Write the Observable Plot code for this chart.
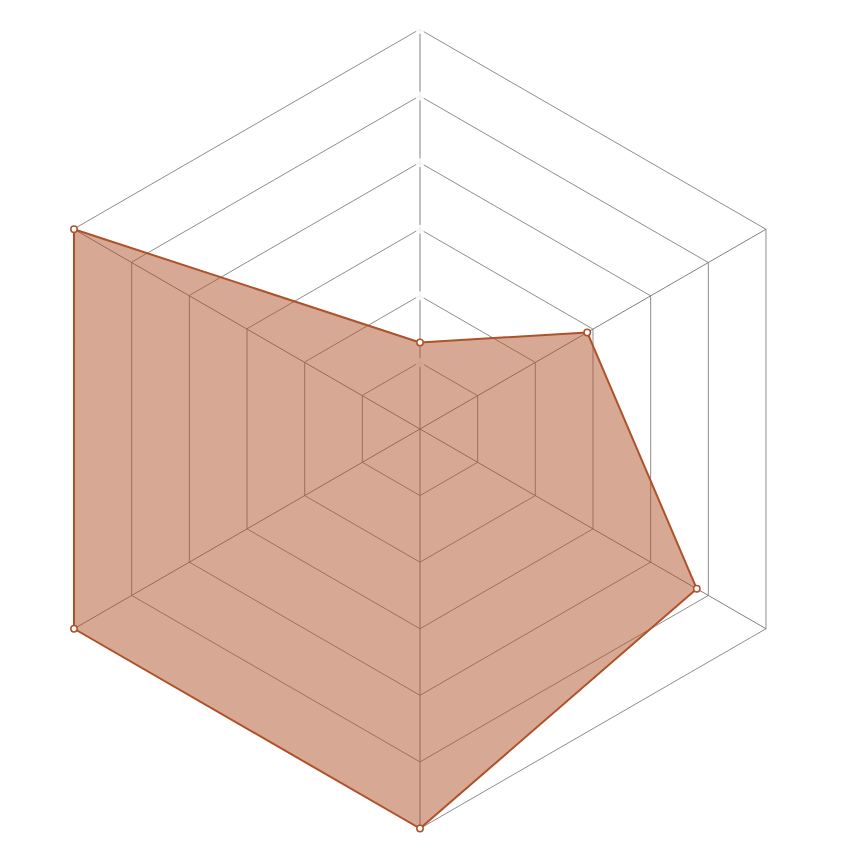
<!DOCTYPE html>
<html>
<head>
<meta charset="utf-8">
<script src="https://cdn.jsdelivr.net/npm/d3@7"></script>
<script src="https://cdn.jsdelivr.net/npm/@observablehq/plot@0.6"></script>
<style>
  html, body { margin: 0; padding: 0; background: #fff; }
  svg { display: block; }
</style>
</head>
<body>
<div id="chart"></div>
<script>
// Data
const axes = ["A", "B", "C", "D", "E", "F"];
const values = [1.3, 2.9, 4.8, 6, 6, 6];
const ringLevels = [1, 2, 3, 4, 5, 6];
const maxValue = 6;

const color = "#af5129";
const n = axes.length;
const angle = i => (2 * Math.PI * i) / n;
const pt = (i, v) => ({ x: (v / maxValue) * Math.sin(angle(i)), y: (v / maxValue) * Math.cos(angle(i)) });

const spokes = axes.flatMap((a, i) => [{ axis: a, ...pt(i, 0) }, { axis: a, ...pt(i, maxValue) }]);
const rings = ringLevels.flatMap(l => axes.map((a, i) => ({ level: l, ...pt(i, l) })));
const gaps = ringLevels.map(l => pt(0, l));
const poly = axes.map((a, i) => ({ axis: a, value: values[i], ...pt(i, values[i]) }));

const cx = 419.5, cy = 428.5, R = 399.5;

const chart = Plot.plot({
  width: 860,
  height: 860,
  margin: 0,
  x: { domain: [-1, 1], range: [cx - R, cx + R], axis: null },
  y: { domain: [-1, 1], range: [cy + R, cy - R], axis: null },
  marks: [
    Plot.line(spokes, { x: "x", y: "y", z: "axis", stroke: "#808080", strokeWidth: 1 }),
    Plot.line(rings, { x: "x", y: "y", z: "level", curve: "linear-closed", stroke: "#808080", strokeWidth: 0.9 }),
    Plot.dot(gaps, { x: "x", y: "y", r: 4.5, fill: "white", fillOpacity: 0.85, stroke: "none" }),
    Plot.line(poly, { x: "x", y: "y", curve: "linear-closed", fill: color, fillOpacity: 0.5, stroke: "none" }),
    Plot.line(poly, { x: "x", y: "y", curve: "linear-closed", stroke: color, strokeWidth: 2 }),
    Plot.dot(poly, { x: "x", y: "y", r: 3.2, fill: "white", stroke: color, strokeWidth: 1.5 })
  ]
});
document.getElementById("chart").appendChild(chart);
</script>
</body>
</html>
